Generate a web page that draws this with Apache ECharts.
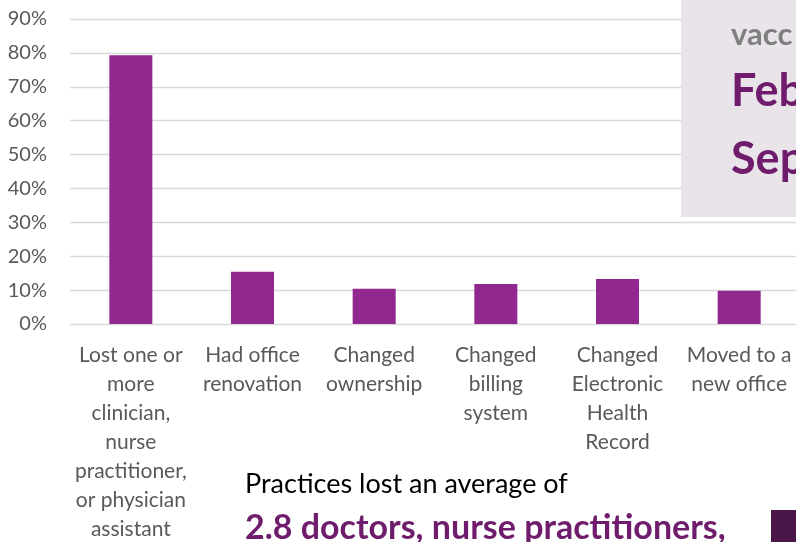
<!DOCTYPE html>
<html>
<head>
<meta charset="utf-8">
<style>
  html, body { margin: 0; padding: 0; background: #fff; }
  #chart { width: 796px; height: 542px; }
</style>
<script src="https://cdn.jsdelivr.net/npm/echarts@6/dist/echarts.min.js"></script>
</head>
<body>
<div id="chart"></div>
<script>
// categories and values
const categories = [
  'Lost one or\nmore\nclinician,\nnurse\npractitioner,\nor physician\nassistant',
  'Had office\nrenovation',
  'Changed\nownership',
  'Changed\nbilling\nsystem',
  'Changed\nElectronic\nHealth\nRecord',
  'Moved to a\nnew office'
]
const shares = [79.3, 15.4, 10.4, 11.8, 13.3, 9.8]
const yTicks = [0, 10, 20, 30, 40, 50, 60, 70, 80, 90]

const chart = echarts.init(document.getElementById('chart'), null, { renderer: 'canvas' })

chart.setOption({
  animation: false,
  textStyle: { fontFamily: 'Lato' },
  grid: {
    left: 70,
    right: -4,
    top: 19,
    bottom: 218,
    outerBoundsMode: 'none',
    containLabel: false
  },
  xAxis: {
    type: 'category',
    data: categories,
    axisLine: { show: false },
    axisTick: { show: false },
    axisLabel: {
      interval: 0,
      margin: 17,
      color: '#595959',
      fontSize: 21,
      lineHeight: 29,
      align: 'center',
      verticalAlign: 'top'
    }
  },
  yAxis: {
    type: 'value',
    min: yTicks[0],
    max: yTicks[yTicks.length - 1],
    interval: 10,
    axisLine: { show: false },
    axisTick: { show: false },
    splitLine: { lineStyle: { color: '#D9D9D9', width: 1.4 } },
    axisLabel: {
      margin: 23,
      color: '#595959',
      fontSize: 20,
      formatter: '{value}%'
    }
  },
  series: [{
    type: 'bar',
    data: shares,
    barWidth: 43,
    itemStyle: { color: '#92278F' }
  }],
  graphic: [
    {
      type: 'rect',
      z: 100,
      shape: { x: 681, y: 0, width: 130, height: 217 },
      style: { fill: '#E8E4EA' }
    },
    {
      type: 'text',
      z: 101,
      left: 731,
      top: 19,
      style: { text: 'vacc', fontFamily: 'Lato', fontWeight: 'bold', fontSize: 31, fill: '#7F7F7F' }
    },
    {
      type: 'text',
      z: 101,
      left: 731,
      top: 69,
      style: { text: 'Feb', fontFamily: 'Lato', fontWeight: 'bold', fontSize: 45, fill: '#6E1C6B' }
    },
    {
      type: 'text',
      z: 101,
      left: 731,
      top: 137,
      style: { text: 'Sep', fontFamily: 'Lato', fontWeight: 'bold', fontSize: 45, fill: '#6E1C6B' }
    },
    {
      type: 'text',
      z: 101,
      left: 245,
      top: 471,
      style: { text: 'Practices lost an average of', fontFamily: 'Lato', fontSize: 27, fill: '#000000' }
    },
    {
      type: 'text',
      z: 101,
      left: 245,
      top: 511,
      style: { text: '2.8 doctors, nurse practitioners,', fontFamily: 'Lato', fontWeight: 'bold', fontSize: 34, fill: '#6E1C6B' }
    },
    {
      type: 'rect',
      z: 101,
      shape: { x: 771, y: 510, width: 40, height: 40 },
      style: { fill: '#4A1548' }
    }
  ]
})
</script>
</body>
</html>
